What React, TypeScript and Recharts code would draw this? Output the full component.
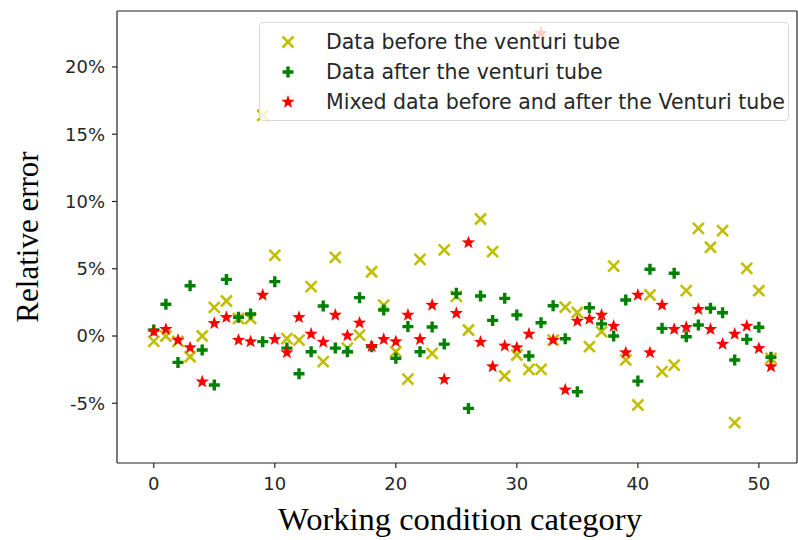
import React from "react";
import { ReferenceLine, Scatter, ScatterChart, XAxis, YAxis } from "recharts";

const conditions = [
  0, 1, 2, 3, 4, 5, 6, 7, 8, 9, 10, 11, 12, 13, 14, 15, 16, 17, 18, 19, 20, 21, 22, 23, 24, 25,
  26, 27, 28, 29, 30, 31, 32, 33, 34, 35, 36, 37, 38, 39, 40, 41, 42, 43, 44, 45, 46, 47, 48, 49, 50, 51,
];

// relative error in %
const beforeVenturi = [
  -0.4, 0, -0.4, -1.54, 0, 2.13, 2.6, 1.3, 1.3, 16.4, 6.0, -0.2, -0.3, 3.67, -1.9, 5.85, -0.9,
  0.07, 4.78, 2.3, -1.17, -3.2, 5.7, -1.29, 6.4, 2.95, 0.45, 8.7, 6.27, -2.97, -1.41, -2.48,
  -2.48, -0.3, 2.15, 1.75, -0.79, 0.32, 5.2, -1.78, -5.13, 3.05, -2.65, -2.16, 3.37, 8.0, 6.6,
  7.83, -6.44, 5.03, 3.37, -1.66,
];

const afterVenturi = [
  0.45, 2.36, -1.96, 3.74, -1.04, -3.64, 4.21, 1.39, 1.64, -0.42, 4.04, -0.9, -2.8, -1.17, 2.23,
  -0.9, -1.17, 2.85, -0.79, 1.93, -1.66, 0.7, -1.17, 0.67, -0.6, 3.17, -5.38, 2.97, 1.16, 2.8,
  1.56, -1.49, 0.99, 2.25, -0.2, -4.14, 2.1, 0.9, 0, 2.68, -3.35, 4.96, 0.57, 4.66, -0.05, 0.82,
  2.06, 1.73, -1.78, -0.25, 0.65, -1.58,
];

const mixedVenturi = [
  0.32, 0.5, -0.3, -0.87, -3.4, 0.94, 1.39, -0.3, -0.42, 3.05, -0.25, -1.24, 1.39, 0.15, -0.45,
  1.56, 0.03, 0.97, -0.76, -0.25, -0.42, 1.56, -0.25, 2.3, -3.22, 1.69, 6.94, -0.45, -2.28,
  -0.74, -0.87, 0.15, 22.5, -0.3, -4.0, 1.1, 1.25, 1.56, 0.74, -1.24, 3.05, -1.24, 2.3, 0.5,
  0.65, 1.98, 0.5, -0.6, 0.15, 0.74, -0.92, -2.28,
];

const xTicks = [0, 10, 20, 30, 40, 50];
const yTicks = [-5, 0, 5, 10, 15, 20];
const xDomain = [-3.04, 53.15];
const yDomain = [-9.44, 24.16];

const seriesNames = [
  "Data before the venturi tube",
  "Data after the venturi tube",
  "Mixed data before and after the Venturi tube",
];

const YELLOW = "#bfbf00";
const GREEN = "#008000";
const RED = "#ff0000";

const toPoints = (values: number[]) => conditions.map((c, i) => ({ x: c, y: values[i] }));

const CrossMark = ({ cx, cy }: any) => {
  const s = 5.5;
  return (
    <g stroke={YELLOW} strokeWidth={2.6}>
      <line x1={cx - s} y1={cy - s} x2={cx + s} y2={cy + s} />
      <line x1={cx - s} y1={cy + s} x2={cx + s} y2={cy - s} />
    </g>
  );
};

const PlusMark = ({ cx, cy }: any) => {
  const a = 1.7;
  const l = 5.5;
  const pts = [
    [-a, -l], [a, -l], [a, -a], [l, -a], [l, a], [a, a], [a, l], [-a, l], [-a, a], [-l, a], [-l, -a], [-a, -a],
  ]
    .map(([px, py]) => `${cx + px},${cy + py}`)
    .join(" ");
  return <polygon points={pts} fill={GREEN} />;
};

const StarMark = ({ cx, cy }: any) => {
  const outer = 7;
  const inner = 2.9;
  const pts: string[] = [];
  for (let i = 0; i < 10; i++) {
    const r = i % 2 === 0 ? outer : inner;
    const ang = -Math.PI / 2 + (i * Math.PI) / 5;
    pts.push(`${cx + r * Math.cos(ang)},${cy + r * Math.sin(ang)}`);
  }
  return <polygon points={pts.join(" ")} fill={RED} />;
};

const YTitle = ({ viewBox }: any) => {
  const cx = viewBox.x + 27;
  const cy = viewBox.y + viewBox.height / 2;
  return (
    <text
      x={cx}
      y={cy}
      transform={`rotate(-90 ${cx} ${cy})`}
      textAnchor="middle"
      dominantBaseline="central"
      fontFamily="Liberation Serif"
      fontSize={31}
      fill="#000"
    >
      Relative error
    </text>
  );
};

const XTitle = ({ viewBox }: any) => (
  <text
    x={viewBox.x + viewBox.width / 2 + 3}
    y={viewBox.y + 67}
    textAnchor="middle"
    fontFamily="Liberation Serif"
    fontSize={32.5}
    fill="#000"
  >
    Working condition category
  </text>
);

const marks = [
  <svg width={16} height={16} key="c"><CrossMark cx={8} cy={8} /></svg>,
  <svg width={16} height={16} key="p"><PlusMark cx={8} cy={8} /></svg>,
  <svg width={16} height={16} key="s"><StarMark cx={8} cy={8} /></svg>,
];

const tickStyle = { fontFamily: "DejaVu Sans", fontSize: 18, fill: "#262626" };
const frame = "#222";

export default function App() {
  return (
    <div style={{ position: "absolute", left: 0, top: 0, width: 798, height: 540, background: "#fff" }}>
      <ScatterChart width={798} height={540} margin={{ top: 11, right: 1, bottom: 0, left: 0 }}>
        <XAxis
          type="number"
          dataKey="x"
          domain={xDomain}
          ticks={xTicks}
          allowDataOverflow
          height={77}
          tick={tickStyle}
          tickSize={5}
          tickMargin={9}
          stroke={frame}
          strokeWidth={1.2}
          label={<XTitle />}
        />
        <YAxis
          type="number"
          dataKey="y"
          domain={yDomain}
          ticks={yTicks}
          allowDataOverflow
          width={117}
          tick={tickStyle}
          tickSize={5}
          tickMargin={7}
          tickFormatter={(v: number) => `${v}%`}
          stroke={frame}
          strokeWidth={1.2}
          label={<YTitle />}
        />
        <ReferenceLine y={yDomain[1]} stroke={frame} strokeWidth={1.2} />
        <ReferenceLine x={xDomain[1]} stroke={frame} strokeWidth={1.2} />
        <Scatter name={seriesNames[0]} data={toPoints(beforeVenturi)} shape={CrossMark} isAnimationActive={false} />
        <Scatter name={seriesNames[1]} data={toPoints(afterVenturi)} shape={PlusMark} isAnimationActive={false} />
        <Scatter name={seriesNames[2]} data={toPoints(mixedVenturi)} shape={StarMark} isAnimationActive={false} />
      </ScatterChart>
      <div
        style={{
          position: "absolute",
          left: 259,
          top: 22,
          width: 530,
          height: 99,
          boxSizing: "border-box",
          border: "1px solid #d8d8d8",
          borderRadius: 4,
          background: "rgba(255,255,255,0.8)",
          fontFamily: "DejaVu Sans",
          fontSize: 20.5,
          color: "#262626",
          paddingTop: 4,
        }}
      >
        {seriesNames.map((n, i) => (
          <div key={n} style={{ display: "flex", alignItems: "center", height: 30 }}>
            <div style={{ width: 56, display: "flex", justifyContent: "center" }}>{marks[i]}</div>
            <span style={{ whiteSpace: "nowrap", marginLeft: 10 }}>{n}</span>
          </div>
        ))}
      </div>
    </div>
  );
}
